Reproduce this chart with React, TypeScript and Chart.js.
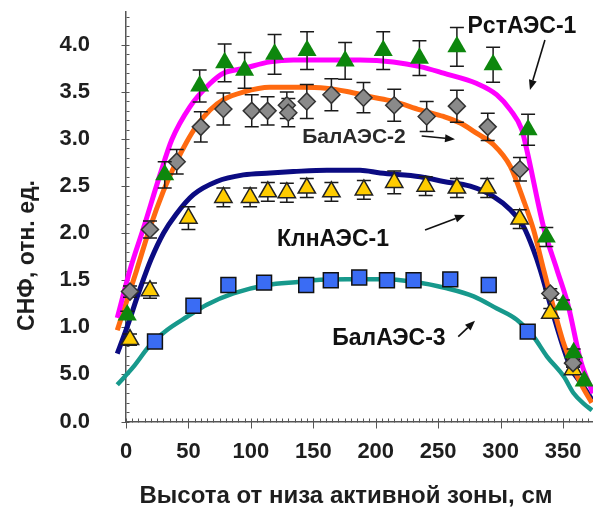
import React, { useEffect, useRef } from 'react';
import { Chart, registerables } from 'chart.js';

Chart.register(...registerables);

const FONT = "'Liberation Sans', Arial, Helvetica, sans-serif";

// ---- axes ----
const xTickValues = [0, 50, 100, 150, 200, 250, 300, 350];
const yTickValues = [0, 0.5, 1.0, 1.5, 2.0, 2.5, 3.0, 3.5, 4.0];
const yTickLabels = ['0.0', '5.0', '1.0', '1.5', '2.0', '2.5', '3.0', '3.5', '4.0'];
const xAxisTitle = 'Высота от низа активной зоны, см';
const yAxisTitle = 'СНФ, отн. ед.';

// ---- РстАЭС-1 (green triangles, magenta curve) ----
const rstX = [1, 31, 59, 79, 95, 119, 145, 175.5, 206, 235, 265, 294, 322, 336.6, 350, 358.5, 367];
const rstY = [1.13, 2.62, 3.565, 3.81, 3.73, 3.9, 3.94, 3.83, 3.94, 3.86, 3.98, 3.79, 3.1, 1.96, 1.24, 0.73, 0.43];
const rstErr = [0.04, 0.14, 0.17, 0.2, 0.19, 0.21, 0.2, 0.195, 0.2, 0.185, 0.205, 0.185, 0.165, 0.1, 0.05, 0.04, 0];
const rstFitX = [-7, 3.2, 13.9, 27.2, 36.6, 51.3, 67.3, 78, 94, 115.4, 134, 161, 187.5, 214, 235.6, 254.3, 281, 297, 307.8, 317, 321, 334.5, 345.2, 354, 364, 374];
const rstFitY = [1.1, 1.61, 2.05, 2.62, 2.99, 3.345, 3.59, 3.7, 3.75, 3.82, 3.84, 3.84, 3.84, 3.82, 3.77, 3.7, 3.59, 3.47, 3.31, 3.1, 2.885, 2.06, 1.61, 1.24, 0.65, 0.3];

// ---- БалАЭС-2 (grey diamonds, orange curve) ----
const bal2X = [3.2, 19.2, 40.6, 59.9, 78, 100.7, 113.4, 128.8, 130, 144.8, 164.5, 190.2, 214.8, 240.8, 265, 289.7, 315.5, 339.8, 358];
const bal2Y = [1.38, 2.04, 2.76, 3.13, 3.32, 3.3, 3.3, 3.36, 3.28, 3.4, 3.47, 3.44, 3.36, 3.24, 3.35, 3.13, 2.68, 1.36, 0.62];
const bal2Err = [0.06, 0.09, 0.13, 0.16, 0.17, 0.17, 0.15, 0.14, 0.15, 0.18, 0.17, 0.16, 0.17, 0.16, 0.17, 0.145, 0.125, 0.05, 0.04];
const bal2FitX = [-7, 8.6, 18.7, 30, 40, 48.6, 56, 67.3, 78, 94, 115, 140, 160, 177, 195.6, 214.2, 235.6, 254.3, 267.7, 281, 294.4, 307.8, 318.4, 326.4, 334.5, 340, 350, 358, 366, 373];
const bal2FitY = [0.97, 1.61, 2.04, 2.45, 2.75, 2.97, 3.13, 3.31, 3.42, 3.5, 3.55, 3.55, 3.54, 3.505, 3.45, 3.4, 3.31, 3.24, 3.17, 3.06, 2.94, 2.71, 2.35, 2.035, 1.61, 1.33, 0.85, 0.58, 0.36, 0.2];

// ---- КлнАЭС-1 (yellow triangles, navy curve) ----
const klnX = [3.2, 19.2, 50, 78, 99.4, 113.6, 128.8, 144.8, 164.5, 190.5, 214.8, 240, 265, 289.3, 315.3, 339.8, 358];
const klnY = [0.87, 1.39, 2.16, 2.38, 2.38, 2.44, 2.43, 2.48, 2.44, 2.46, 2.54, 2.5, 2.48, 2.48, 2.15, 1.15, 0.55];
const klnErr = [0.06, 0.08, 0.12, 0.1, 0.1, 0.1, 0.1, 0.1, 0.1, 0.1, 0.12, 0.1, 0.1, 0.1, 0.1, 0.05, 0.03];
const klnFitX = [-7, 0, 11, 20, 30, 40, 54, 72.7, 94, 115.4, 134, 160.9, 187.5, 203.6, 235.6, 254.3, 275.7, 294.4, 307.8, 318.4, 326.4, 331.8, 342.2, 355.9, 366.5, 373.2];
const klnFitY = [0.72, 0.97, 1.4, 1.72, 2.0, 2.2, 2.41, 2.55, 2.62, 2.64, 2.655, 2.67, 2.67, 2.64, 2.6, 2.55, 2.5, 2.39, 2.25, 2.07, 1.82, 1.61, 1.13, 0.58, 0.37, 0.23];

// ---- БалАЭС-3 (blue squares, teal curve) ----
const bal3X = [23.2, 54, 82, 110.6, 144.3, 164, 186.8, 209, 230.3, 259.7, 290.5, 321.7];
const bal3Y = [0.85, 1.23, 1.45, 1.475, 1.45, 1.5, 1.53, 1.5, 1.5, 1.51, 1.45, 0.955];
const bal3Err = [0.03, 0.03, 0.03, 0.03, 0.03, 0.03, 0.03, 0.03, 0.03, 0.03, 0.03, 0.03];
const bal3FitX = [-7, 5.9, 19.2, 32.6, 48.6, 64.7, 86, 112.8, 139.5, 150, 177, 203.6, 230.3, 257, 278.4, 297, 313, 326.4, 337.2, 350.5, 358.5, 366.5, 373.2];
const bal3FitY = [0.39, 0.58, 0.81, 0.97, 1.11, 1.24, 1.36, 1.45, 1.485, 1.5, 1.51, 1.51, 1.485, 1.415, 1.33, 1.2, 1.08, 0.9, 0.69, 0.48, 0.3, 0.19, 0.12];

// ---- annotations (data coordinates) ----
const labelTexts = ['РстАЭС-1', 'БалАЭС-2', 'КлнАЭС-1', 'БалАЭС-3'];
const labelX = [317.1, 182.6, 165.8, 210.6];
const labelY = [4.217, 3.038, 1.95, 0.898];
const arrowFromX = [335.5, 236.8, 239.5, 266.1];
const arrowFromY = [4.052, 3.033, 2.034, 0.901];
const arrowToX = [323.5, 263.5, 271.5, 279.5];
const arrowToY = [3.521, 2.998, 2.193, 1.071];

const pts = (xs: number[], ys: number[]) => xs.map((x, i) => ({ x, y: ys[i] }));

const decorPlugin = {
  id: 'decor',
  beforeDatasetsDraw(chart: any) {
    const { ctx } = chart;
    const xs = chart.scales.x;
    const ys = chart.scales.y;
    const x0 = Math.round(xs.getPixelForValue(0)) + 0.5;
    const y0 = Math.round(ys.getPixelForValue(0)) + 0.5;
    ctx.save();
    ctx.strokeStyle = '#555';
    ctx.lineWidth = 1;
    ctx.beginPath();
    for (let i = 0; i <= 43; i++) {
      const py = Math.round(ys.getPixelForValue(i / 10)) + 0.5;
      const major = i % 5 === 0;
      ctx.moveTo(x0 - (major ? 5 : 0), py);
      ctx.lineTo(x0 + 3, py);
    }
    for (let i = 0; i <= 74; i++) {
      const px = Math.round(xs.getPixelForValue(i * 5)) + 0.5;
      const major = i % 10 === 0;
      ctx.moveTo(px, y0 - 4);
      ctx.lineTo(px, y0 + (major ? 6 : 0));
    }
    ctx.stroke();
    ctx.restore();
  },
  beforeDatasetDraw(chart: any, args: any) {
    const ds = chart.data.datasets[args.index];
    if (!ds.errorBars) return;
    const { ctx } = chart;
    const xs = chart.scales.x;
    const ys = chart.scales.y;
    ctx.save();
    ctx.strokeStyle = '#1a1a1a';
    ctx.lineWidth = 1.5;
    ctx.beginPath();
    ds.data.forEach((p: any, i: number) => {
      const e = ds.errorBars[i];
      if (!e) return;
      const px = xs.getPixelForValue(p.x);
      const top = ys.getPixelForValue(p.y + e);
      const bot = ys.getPixelForValue(p.y - e);
      ctx.moveTo(px, top);
      ctx.lineTo(px, bot);
      ctx.moveTo(px - 7, top);
      ctx.lineTo(px + 7, top);
      ctx.moveTo(px - 7, bot);
      ctx.lineTo(px + 7, bot);
    });
    ctx.stroke();
    ctx.restore();
  },
  afterDatasetsDraw(chart: any) {
    const { ctx } = chart;
    const xs = chart.scales.x;
    const ys = chart.scales.y;
    ctx.save();
    ctx.strokeStyle = '#111';
    ctx.fillStyle = '#111';
    ctx.lineWidth = 1.6;
    arrowFromX.forEach((fx, i) => {
      const x1 = xs.getPixelForValue(fx);
      const y1 = ys.getPixelForValue(arrowFromY[i]);
      const x2 = xs.getPixelForValue(arrowToX[i]);
      const y2 = ys.getPixelForValue(arrowToY[i]);
      const ang = Math.atan2(y2 - y1, x2 - x1);
      const hl = 10, hw = 4;
      const bx = x2 - hl * Math.cos(ang);
      const by = y2 - hl * Math.sin(ang);
      ctx.beginPath();
      ctx.moveTo(x1, y1);
      ctx.lineTo(bx, by);
      ctx.stroke();
      ctx.beginPath();
      ctx.moveTo(x2, y2);
      ctx.lineTo(bx + hw * Math.sin(ang), by - hw * Math.cos(ang));
      ctx.lineTo(bx - hw * Math.sin(ang), by + hw * Math.cos(ang));
      ctx.closePath();
      ctx.fill();
    });
    ctx.textAlign = 'center';
    ctx.textBaseline = 'alphabetic';
    labelTexts.forEach((t, i) => {
      const size = i === 1 ? 21 : 23;
      ctx.font = `bold ${size}px ${FONT}`;
      ctx.fillStyle = i === 1 ? '#2a2a2a' : '#111';
      const px = xs.getPixelForValue(labelX[i]);
      const py = ys.getPixelForValue(labelY[i]);
      ctx.fillText(t, px, py + size * 0.358);
    });
    ctx.restore();
  },
  afterDraw(chart: any) {
    const { ctx } = chart;
    ctx.save();
    ctx.fillStyle = '#1e1e1e';
    ctx.textAlign = 'center';
    ctx.textBaseline = 'alphabetic';
    ctx.font = `bold 24px ${FONT}`;
    ctx.fillText(xAxisTitle, 346, 495 + 23 * 0.358);
    ctx.font = `bold 23px ${FONT}`;
    ctx.translate(26, 255.5);
    ctx.rotate(-Math.PI / 2);
    ctx.fillText(yAxisTitle, 0, 23 * 0.358);
    ctx.restore();
  },
};

export default function App() {
  const ref = useRef<HTMLCanvasElement>(null);
  useEffect(() => {
    if (!ref.current) return;
    const markerBase = { showLine: false, clip: false as any, borderWidth: 1.5 };
    const curveBase = { showLine: true, pointRadius: 0, clip: false as any, cubicInterpolationMode: 'monotone' as const, fill: false };
    const chart = new Chart(ref.current, {
      type: 'scatter',
      data: {
        datasets: [
          { ...markerBase, label: 'РстАЭС-1', data: pts(rstX, rstY), pointStyle: 'triangle', pointRadius: 11, backgroundColor: '#0d870d', borderColor: '#0d870d', borderWidth: 0, errorBars: rstErr } as any,
          { ...markerBase, label: 'БалАЭС-2', data: pts(bal2X, bal2Y), pointStyle: 'rectRot', pointRadius: 8.5, backgroundColor: '#8a8a8a', borderColor: '#333', errorBars: bal2Err } as any,
          { ...markerBase, label: 'КлнАЭС-1', data: pts(klnX, klnY), pointStyle: 'triangle', pointRadius: 10, backgroundColor: '#ffcc00', borderColor: '#222', errorBars: klnErr } as any,
          { ...markerBase, label: 'БалАЭС-3', data: pts(bal3X, bal3Y), pointStyle: 'rect', pointRadius: 10.5, backgroundColor: '#3a6cf4', borderColor: '#111', errorBars: bal3Err } as any,
          { ...curveBase, label: 'РстАЭС-1 fit', data: pts(rstFitX, rstFitY), borderColor: '#ff00ff', borderWidth: 5 } as any,
          { ...curveBase, label: 'БалАЭС-2 fit', data: pts(bal2FitX, bal2FitY), borderColor: '#ff6a10', borderWidth: 5 } as any,
          { ...curveBase, label: 'КлнАЭС-1 fit', data: pts(klnFitX, klnFitY), borderColor: '#0b0b82', borderWidth: 5 } as any,
          { ...curveBase, label: 'БалАЭС-3 fit', data: pts(bal3FitX, bal3FitY), borderColor: '#17998c', borderWidth: 4.5 } as any,
        ],
      },
      options: {
        responsive: false,
        animation: false,
        devicePixelRatio: 1,
        layout: { autoPadding: false, padding: { top: 12, left: 0, right: 0, bottom: 0 } },
        plugins: { legend: { display: false }, tooltip: { enabled: false } },
        scales: {
          x: {
            type: 'linear',
            min: 0,
            max: 374,
            afterBuildTicks: (s: any) => { s.ticks = xTickValues.map((v) => ({ value: v })); },
            afterFit: (s: any) => {
              s.height = 87.5;
              s.paddingLeft = 0; s.paddingRight = 0; s.paddingTop = 0; s.paddingBottom = 0;
            },
            grid: { display: false, drawTicks: false },
            border: { display: true, color: '#555', width: 1.5 },
            ticks: { autoSkip: false, maxRotation: 0, padding: 17, color: '#1e1e1e', font: { family: FONT, size: 22, weight: 'bold' } },
          },
          y: {
            type: 'linear',
            min: 0,
            max: 4.35,
            afterBuildTicks: (s: any) => { s.ticks = yTickValues.map((v) => ({ value: v })); },
            afterFit: (s: any) => {
              s.width = 126;
              s.paddingLeft = 0; s.paddingRight = 0; s.paddingTop = 0; s.paddingBottom = 0;
            },
            grid: { display: false, drawTicks: false },
            border: { display: true, color: '#555', width: 1.5 },
            ticks: {
              padding: 36,
              color: '#1e1e1e',
              font: { family: FONT, size: 22, weight: 'bold' },
              callback: (v: any) => {
                const idx = yTickValues.findIndex((t) => Math.abs(t - Number(v)) < 1e-6);
                return idx >= 0 ? yTickLabels[idx] : '';
              },
            },
          },
        },
      } as any,
      plugins: [decorPlugin as any],
    });
    return () => chart.destroy();
  }, []);
  return (
    <div style={{ position: 'absolute', left: 0, top: 0, width: 593, height: 509, background: '#fff' }}>
      <canvas ref={ref} width={593} height={509} style={{ display: 'block' }} />
    </div>
  );
}
